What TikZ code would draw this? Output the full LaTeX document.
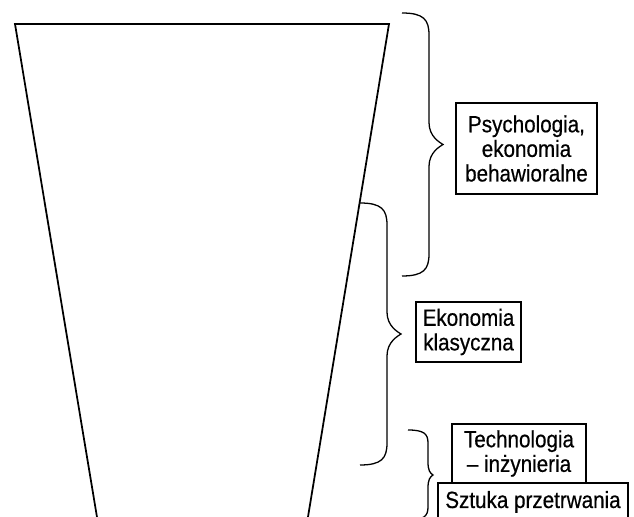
\documentclass[tikz,border=0pt]{standalone}
\usepackage{fontspec}
\setmainfont{Liberation Sans}[FakeStretch=0.88, FakeBold=0.5]
\usetikzlibrary{calc}
\tikzset{
  every picture/.style={x=0.03cm, y=-0.03cm},
  lejek/.style={line width=1.5pt, line join=miter},
  klamra/.style={line width=1.1pt},
  pole/.style={draw, line width=0.9pt, align=center, inner sep=0pt,
               font=\fontsize{20}{21}\selectfont},
}
% klamra: x, gora, dol, glebokosc, szpic, promien
\newcommand{\klamra}[6]{%
  \pgfmathsetmacro{\ks}{(#2+#3)/2}
  \draw[klamra] (#1,#2) .. controls ({#1+0.8*#4},#2) and ({#1+#4},{#2+0.3*#6}) .. ({#1+#4},{#2+#6})
    -- ({#1+#4},{\ks-#6}) .. controls ({#1+#4},{\ks-0.35*#6}) and ({#1+#5-3},{\ks-2}) .. ({#1+#5},\ks)
    .. controls ({#1+#5-3},{\ks+2}) and ({#1+#4},{\ks+0.35*#6}) .. ({#1+#4},{\ks+#6})
    -- ({#1+#4},{#3-#6}) .. controls ({#1+#4},{#3-0.3*#6}) and ({#1+0.8*#4},#3) .. (#1,#3);
}
\begin{document}
\begin{tikzpicture}
  \clip (0,0) rectangle (634,517);
  % lejek
  \coordinate (lg) at (15,24);
  \coordinate (pg) at (389,24);
  \coordinate (ld) at (100.8,540);
  \coordinate (pd) at (304.2,540);
  \draw[lejek] (ld) -- (lg) -- (pg) -- (pd);
  % klamry
  \klamra{402}{13}{276}{27}{41}{22}
  \klamra{360}{203}{465}{27}{41}{22}
  \klamra{408}{430}{520}{20}{25}{13}
  % pola
  \node[pole, minimum width=4.23cm, minimum height=2.73cm] (psych) at (526.5,148.5) {Psychologia,\\ekonomia\\behawioralne};
  \node[pole, minimum width=3.15cm, minimum height=1.8cm] (klas) at (468.5,332) {Ekonomia\\klasyczna};
  \node[pole, minimum width=4.02cm, minimum height=1.77cm] (tech) at (519,453.5) {Technologia\\– inżynieria};
  \node[pole, minimum width=5.7cm, anchor=base, text height=0.55cm, text depth=0.6cm, inner ysep=0.2cm] (szt) at (533,508) {Sztuka przetrwania};
\end{tikzpicture}
\end{document}
